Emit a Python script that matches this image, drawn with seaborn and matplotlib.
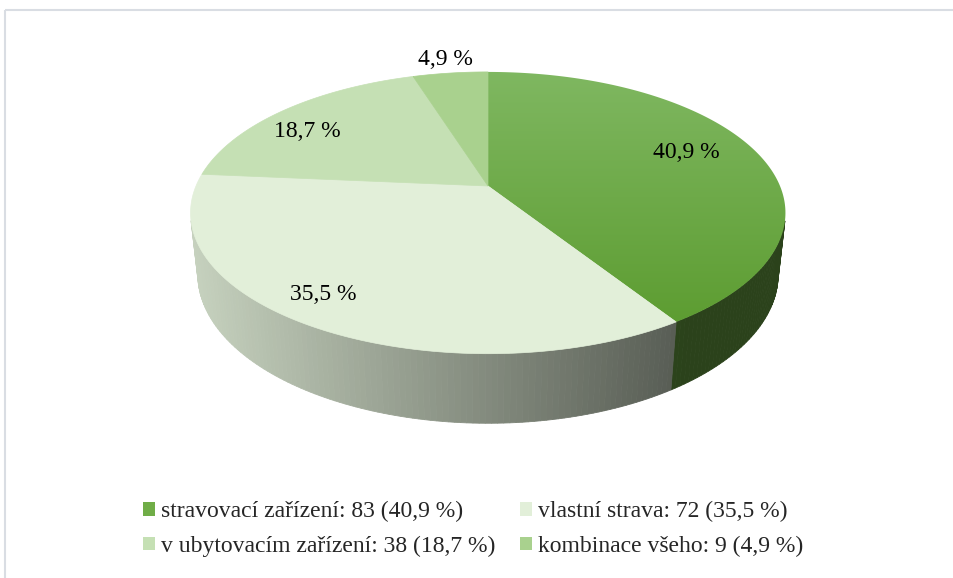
import numpy as np
import matplotlib
matplotlib.use('Agg')
import matplotlib.pyplot as plt
import matplotlib.colors as mcolors
from matplotlib.patches import Polygon, Patch, Rectangle
import seaborn as sns

# data
CATEGORIES = ['stravovací zařízení', 'vlastní strava',
              'v ubytovacím zařízení', 'kombinace všeho']
COUNTS = [83, 72, 38, 9]
PERCENTS = [40.9, 35.5, 18.7, 4.9]

COLORS = ['#70ad47', '#e2efd9', '#c5e0b4', '#a9d18e']
# where the data labels sit: radius and angle shift from the slice middle
LABEL_RADIUS = [0.76, 0.85, 0.80, 1.15]
LABEL_SHIFT = [-3.6, 3.9, -5.7, 0.0]

# view of the 3D pie (in figure pixels)
CX, CY = 488, 186
FOCAL = 1357.8
DIST = 4.65
SIN_E, COS_E = 0.465, 0.885
THICK = 0.24
FONT_SIZE = 17


def project(theta, r=1.0, z=0.0):
    '''theta in degrees clockwise from 12 o'clock, returns pixel coords'''
    t = np.radians(theta)
    x = r * np.sin(t)
    y = r * np.cos(t)
    up = y * SIN_E + z * COS_E
    depth = DIST + y * COS_E - z * SIN_E
    return CX + FOCAL * x / depth, CY - FOCAL * up / depth


def shade(x):
    f = 0.88 + (x - 190) * (0.39 - 0.88) / (675 - 190)
    return float(np.clip(f, 0.38, 0.9))


def fmt(p):
    return f'{p:.1f}'.replace('.', ',') + ' %'


def main():
    sns.set_theme(style='white')
    plt.rcParams['font.family'] = ['Liberation Serif', 'DejaVu Serif']

    fig = plt.figure(figsize=(9.54, 5.78), dpi=100)
    ax = fig.add_axes([0, 0, 1, 1])
    ax.set_xlim(0, 954)
    ax.set_ylim(578, 0)
    ax.axis('off')

    ax.add_patch(Rectangle((5, 10), 1000, 1000, fill=False,
                           edgecolor='#d9dde3', lw=1.5, zorder=0))

    bounds = np.concatenate([[0], np.cumsum(PERCENTS)]) / 100 * 360

    # side walls
    for i, col in enumerate(COLORS):
        rgb = np.array(mcolors.to_rgb(col))
        a0, a1 = bounds[i], bounds[i + 1]
        steps = np.linspace(a0, a1, max(int(a1 - a0), 2) + 1)
        for t0, t1 in zip(steps[:-1], steps[1:]):
            tm = np.radians((t0 + t1) / 2)
            if 1 + DIST * COS_E * np.cos(tm) > 0:
                continue
            p = [project(t0), project(t1),
                 project(t1, z=-THICK), project(t0, z=-THICK)]
            xm = np.mean([q[0] for q in p])
            c = rgb * shade(xm)
            ax.add_patch(Polygon(p, closed=True, facecolor=c,
                                 edgecolor=c, lw=0.6, zorder=1))

    # top faces
    for i, col in enumerate(COLORS):
        arc = np.linspace(bounds[i], bounds[i + 1], 200)
        pts = [(CX, CY)] + [project(t) for t in arc]
        if i == 0:
            poly = Polygon(pts, closed=True, facecolor='none',
                           edgecolor='none', zorder=2)
            ax.add_patch(poly)
            cmap = mcolors.LinearSegmentedColormap.from_list(
                'g', ['#80b862', '#5c9c30'])
            grad = np.linspace(0, 1, 256).reshape(-1, 1)
            im = ax.imshow(grad, cmap=cmap, aspect='auto',
                           extent=(CX - 2, 800, 330, 65), zorder=2)
            im.set_clip_path(poly)
        else:
            ax.add_patch(Polygon(pts, closed=True, facecolor=col,
                                 edgecolor=col, lw=0.5, zorder=2))

    # data labels
    for i, p in enumerate(PERCENTS):
        mid = (bounds[i] + bounds[i + 1]) / 2 + LABEL_SHIFT[i]
        lx, ly = project(mid, r=LABEL_RADIUS[i])
        ax.text(lx, ly, fmt(p), ha='center', va='center',
                fontsize=FONT_SIZE, color='black', zorder=3)

    # legend
    order = [0, 2, 1, 3]
    handles = [Patch(facecolor=COLORS[k], edgecolor='none') for k in order]
    labels = [f'{CATEGORIES[k]}: {COUNTS[k]} ({fmt(PERCENTS[k])})'
              for k in order]
    ax.legend(handles, labels, ncol=2, loc='center left',
              bbox_to_anchor=(143, 529), bbox_transform=ax.transData,
              frameon=False, borderpad=0, borderaxespad=0,
              handlelength=0.5, handleheight=0.5, handletextpad=0.25,
              columnspacing=1.05, labelspacing=0.55, fontsize=FONT_SIZE)

    fig.savefig('out.png', dpi=100)


if __name__ == '__main__':
    main()
